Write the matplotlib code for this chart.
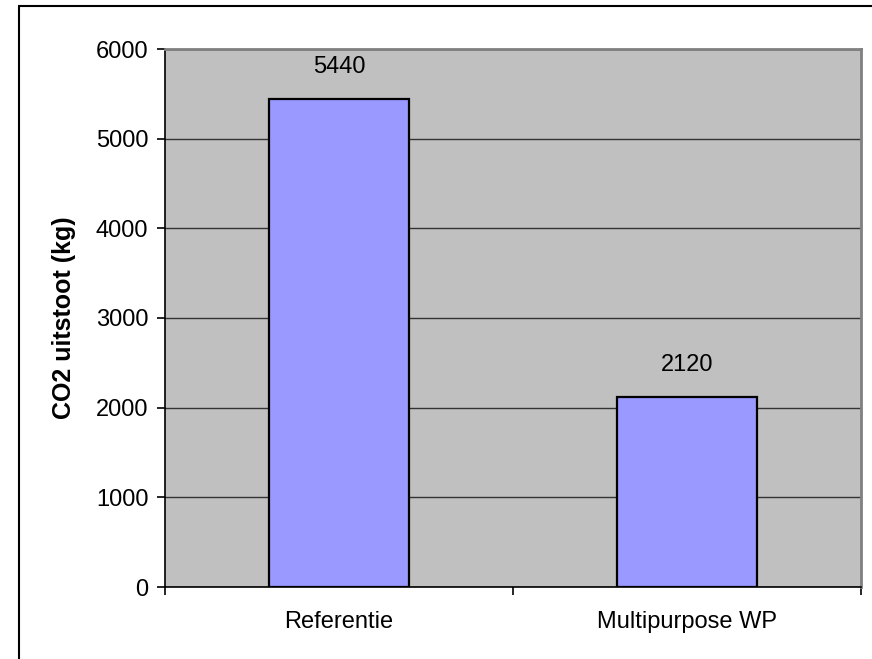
import matplotlib.pyplot as plt
from matplotlib.patches import Rectangle

plt.rcParams['font.family'] = ['Liberation Sans', 'DejaVu Sans']

categories = ['Referentie', 'Multipurpose WP']
co2_kg = [5440, 2120]
y_ticks = [0, 1000, 2000, 3000, 4000, 5000, 6000]

fig = plt.figure(figsize=(8.72, 6.59), dpi=100)
fig.patch.set_facecolor('white')

# frame around the whole chart, open to the right and bottom edge
fig.patches.append(Rectangle((19 / 872, -0.1), 1.2, 1 - 6 / 659 + 0.1,
                             transform=fig.transFigure, fill=False,
                             edgecolor='black', linewidth=1.5))

ax = fig.add_axes([165 / 872, 1 - 587 / 659, (861 - 165) / 872, (587 - 49) / 659])
ax.set_facecolor('#C0C0C0')

x = list(range(len(categories)))
bars = ax.bar(x, co2_kg, width=0.40, color='#9999FF', edgecolor='black',
              linewidth=1.6, zorder=3)

for b, v in zip(bars, co2_kg):
    ax.annotate(str(v), (b.get_x() + b.get_width() / 2, v),
                xytext=(0, 15), textcoords='offset points',
                ha='center', va='bottom', fontsize=17, color='black')

ax.set_xlim(-0.5, len(categories) - 0.5)
ax.set_ylim(0, 6000)
ax.set_yticks(y_ticks)
ax.set_yticklabels([str(t) for t in y_ticks], fontsize=17)
ax.yaxis.grid(True, color='#333333', linewidth=1.0, zorder=1)
ax.set_axisbelow(True)

# category boundaries carry the tick marks, names sit in between
ax.set_xticks([i - 0.5 for i in range(len(categories) + 1)])
ax.set_xticklabels([])
ax.set_xticks(x, minor=True)
ax.set_xticklabels(categories, minor=True, fontsize=17)
ax.tick_params(axis='x', which='minor', length=0, pad=17)
ax.tick_params(axis='x', which='major', length=6, width=1.2, direction='out')
ax.tick_params(axis='y', length=6, width=1.2, direction='out', pad=6)

ax.set_ylabel('CO2 uitstoot (kg)', fontsize=18, fontweight='bold', labelpad=14)

for side in ['left', 'bottom']:
    ax.spines[side].set_color('black')
    ax.spines[side].set_linewidth(1.2)
for side in ['top', 'right']:
    ax.spines[side].set_color('#808080')
    ax.spines[side].set_linewidth(2.0)

fig.savefig('out.png', dpi=100)
